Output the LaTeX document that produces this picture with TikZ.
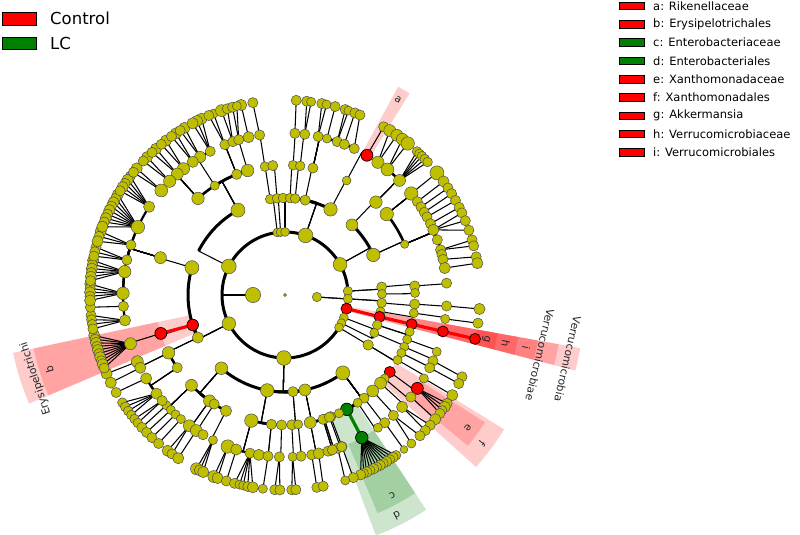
\documentclass[tikz,border=0pt]{standalone}
\usepackage{fontspec}
\setmainfont{DejaVu Sans}
\usetikzlibrary{calc}
\definecolor{oliv}{rgb}{0.75,0.75,0}
\definecolor{dgreen}{rgb}{0,0.5,0}
\tikzset{
  ynode/.style={circle,inner sep=0pt,fill=oliv,draw=black!70,line width=0.5pt},
  rnode/.style={circle,inner sep=0pt,fill=red,draw=black,line width=0.7pt},
  gnode/.style={circle,inner sep=0pt,fill=dgreen,draw=black,line width=0.7pt},
  tedge/.style={line width=1.05pt,black},
  arc3/.style={line width=3pt,black},
  arc4/.style={line width=2.6pt,black},
  arc5/.style={line width=2.2pt,black},
  redge/.style={line width=3.2pt,red},
  gedge/.style={line width=3.2pt,dgreen},
  lbl/.style={inner sep=0pt,font=\fontsize{10.5}{12}\selectfont,text=black!85},
  clbl/.style={inner sep=0pt,font=\fontsize{10.7}{12}\selectfont,text=black!85},
  lgbox/.style={draw=black,line width=0.8pt,minimum width=25pt,minimum height=7.5pt,inner sep=0pt},
  lgtxt/.style={anchor=west,inner sep=0pt,font=\fontsize{11.5}{13}\selectfont},
}
\newif\ifnodepass
\newcommand\TEdge[4]{%
  \edef\tap{\csname nA#2\endcsname}%
  \ifnum#3=6\relax
    \draw[tedge] (#2.center) -- (#1.center);
  \else\ifnum#3=2\relax
    \draw[tedge] (#2.center) -- ($(C)+(\tap:63pt)$);
  \else
    \pgfmathsetmacro\tdd{mod(#4-(\tap)+540,360)-180}%
    \draw[tedge] (#2.center) -- ($(C)+(\tap:\tmpr pt)$) coordinate (j#1);
    \draw[arc#3] (j#1) arc[start angle=\tap, delta angle=\tdd, radius=\tmpr pt];
  \fi\fi}
\newcommand\TN[6]{%
  \expandafter\xdef\csname nA#1\endcsname{#4}%
  \edef\tmpr{\ifcase#3 0\or32\or63\or97\or130\or162\or195\fi}%
  \ifnodepass
    \pgfmathsetmacro\tsz{#5*2.75-max(0,#5-4)*0.9}%
    \node[#6, minimum size=\tsz pt] (#1) at ($(C)+(#4:\tmpr pt)$) {};%
  \else
    \coordinate (#1) at ($(C)+(#4:\tmpr pt)$);%
    \if\relax\detokenize{#2}\relax\else\TEdge{#1}{#2}{#3}{#4}\fi
  \fi}
\newcommand\Y[5]{\TN{#1}{#2}{#3}{#4}{#5}{ynode}}
\newcommand\GF[2]{\foreach \fa/\fs [count=\fk] in {#2} {\TN{#1x\fk}{#1}{6}{\fa}{\fs}{ynode}}}
\newcommand\Band[5]{\fill[#5,fill opacity=0.2] ($(C)+(#1:#3pt)$) arc[start angle=#1,end angle=#2,radius=#3pt] -- ($(C)+(#2:#4pt)$) arc[start angle=#2,end angle=#1,radius=#4pt] -- cycle;}
\newcommand\TreeData{%
% ---- kingdoms and phyla
\Y{kA}{}{1}{180}{6.3}
\Y{kB}{}{1}{-3.6}{3.4}
\Y{p1}{kA}{2}{153}{6}
\Y{p2}{kA}{2}{207}{5.4}
\Y{p3}{kA}{2}{269}{6}
\Y{p4}{kA}{2}{71}{6}
\Y{p5}{kA}{2}{29}{5.5}
\Y{p6}{kA}{2}{97}{3.2}
\Y{p7}{kA}{2}{94}{3.2}
\Y{p8}{kA}{2}{90}{3.2}
\Y{p9}{kB}{2}{3.5}{3.4}
\Y{p10}{kB}{2}{-3.5}{3.4}
\TN{p11}{kA}{2}{-12.5}{4}{rnode}
\Y{p12}{kA}{2}{-21}{3.2}
\Y{p13}{kA}{2}{-26.5}{3.2}
\Y{p14}{kA}{2}{-31}{3.2}
% ---- classes
\Y{c1}{p6}{3}{98.8}{3.5}
\Y{c2}{p7}{3}{94.7}{3.5}
\Y{c3}{p8}{3}{91.2}{3.5}
\Y{c4}{p8}{3}{87}{3.5}
\Y{c5}{p4}{3}{84}{3.5}
\Y{c6}{p4}{3}{78}{3.7}
\Y{c7}{p4}{3}{62}{5.3}
\Y{c8}{p5}{3}{46.3}{4.5}
\Y{c9}{p5}{3}{24.4}{5.3}
\Y{c10}{p9}{3}{4.8}{3.6}
\Y{c11}{p9}{3}{0.6}{3.3}
\Y{c12}{p10}{3}{-4.7}{3.5}
\Y{c13}{p10}{3}{-9.8}{3.3}
\TN{c14}{p11}{3}{-13}{4}{rnode}
\Y{c15}{p12}{3}{-18}{3.5}
\Y{c16}{p13}{3}{-23}{3.3}
\Y{c17}{p14}{3}{-31}{3.8}
\Y{c18}{p3}{3}{306.6}{5.6}
\Y{c19}{p3}{3}{281.9}{4.5}
\Y{c20}{p3}{3}{274.7}{3.7}
\Y{c21}{p3}{3}{259.4}{5.3}
\Y{c22}{p3}{3}{229}{4.9}
\Y{c23}{p2}{3}{206}{4.1}
\TN{c24}{p2}{3}{198}{4.3}{rnode}
\Y{c25}{p2}{3}{163.6}{5.6}
\Y{c26}{p1}{3}{119}{5.6}
% ---- orders
\Y{o1}{c1}{4}{98.9}{3.5}
\Y{o2}{c2}{4}{95.4}{3.7}
\Y{o3}{c4}{4}{86.4}{3.5}
\Y{o4}{c5}{4}{83.3}{3.5}
\Y{o5}{c6}{4}{77.6}{3.7}
\Y{o6}{c7}{4}{61.7}{3.2}
\Y{o7}{c8}{4}{45.6}{4.8}
\Y{o8}{c9}{4}{38.5}{5.3}
\Y{o9}{c9}{4}{23}{3}
\Y{o10}{c10}{4}{4}{3.7}
\Y{o11}{c11}{4}{0.9}{3.3}
\Y{o12}{c12}{4}{-4}{3.7}
\Y{o13}{c13}{4}{-8}{3.3}
\TN{o14}{c14}{4}{-13}{4}{rnode}
\Y{o15}{c15}{4}{-16.4}{3.3}
\Y{o16}{c15}{4}{-20}{3.3}
\Y{o17}{c16}{4}{-23.5}{3.3}
\Y{o18}{c17}{4}{-26.5}{3.3}
\Y{o19}{c17}{4}{-30}{3.3}
\TN{o20}{c18}{4}{-36.3}{4}{rnode}
\Y{o21}{c18}{4}{-40}{3.3}
\Y{o22}{c18}{4}{-42.7}{4.5}
\Y{o23}{c18}{4}{-47.6}{4.5}
\Y{o24}{c18}{4}{-52.5}{3.7}
\Y{o25}{c18}{4}{-56}{3.3}
\TN{o26}{c18}{4}{-61.6}{4.8}{gnode}
\Y{o27}{c18}{4}{-65.5}{3.3}
\Y{o28}{c18}{4}{-69.4}{3.7}
\Y{o29}{c18}{4}{-72.4}{3.3}
\Y{o30}{c19}{4}{281.2}{4.5}
\Y{o31}{c19}{4}{287}{3.7}
\Y{o32}{c19}{4}{290}{3.7}
\Y{o33}{c20}{4}{273}{3.7}
\Y{o34}{c20}{4}{275.8}{3.3}
\Y{o35}{c21}{4}{255}{5.3}
\Y{o36}{c21}{4}{264}{3.7}
\Y{o37}{c21}{4}{268.5}{3.7}
\Y{o38}{c22}{4}{224}{4.5}
\Y{o39}{c22}{4}{234.5}{4.5}
\Y{o40}{c22}{4}{237}{3.7}
\Y{o41}{c22}{4}{243}{4.1}
\Y{o42}{c23}{4}{206.4}{4.8}
\Y{o43}{c23}{4}{214}{3.7}
\TN{o44}{c24}{4}{197.2}{4.5}{rnode}
\Y{o45}{c25}{4}{163.3}{4.5}
\Y{o46}{c26}{4}{132}{4.8}
\Y{o47}{c26}{4}{122.7}{3.3}
\Y{o48}{c26}{4}{111.8}{3.7}
\Y{o49}{c26}{4}{106.7}{4.8}
% ---- families
\Y{f1}{o1}{5}{99}{3.7}
\Y{f2}{o3}{5}{86.5}{3.7}
\Y{f3}{o4}{5}{83}{3.7}
\Y{f4}{o5}{5}{78.2}{3.7}
\Y{f5}{o5}{5}{75}{3.3}
\Y{f6}{o5}{5}{71.2}{3.7}
\Y{f7}{o5}{5}{68.5}{3.7}
\Y{f8}{o5}{5}{64.7}{3.7}
\TN{fa}{o6}{5}{59.6}{4.5}{rnode}
\Y{f9}{o7}{5}{55}{4.7}
\Y{f10}{o7}{5}{50.8}{5}
\Y{f11}{o7}{5}{45}{4.5}
\Y{f12}{o8}{5}{38.8}{5.3}
\Y{f13}{o8}{5}{35.2}{3.7}
\Y{f14}{o8}{5}{32.9}{3.7}
\Y{f15}{o8}{5}{30.7}{3.7}
\Y{f16}{o8}{5}{28.8}{3.7}
\Y{f17}{o9}{5}{26.1}{3.7}
\Y{f18}{o9}{5}{23.7}{4.1}
\Y{f19}{o9}{5}{19.9}{3.7}
\Y{f20}{o9}{5}{16.2}{3.7}
\Y{f21}{o9}{5}{14.5}{3.7}
\Y{f22}{o9}{5}{12.7}{3.7}
\Y{f23}{o9}{5}{9.6}{4.1}
\Y{f24}{o10}{5}{4.2}{3.7}
\Y{f25}{o12}{5}{-3.9}{3.7}
\Y{f26}{o13}{5}{-8.5}{3.3}
\TN{fh}{o14}{5}{-13}{4}{rnode}
\Y{f27}{o16}{5}{-20.5}{3.3}
\Y{f28}{o17}{5}{-24}{3.7}
\Y{f29}{o18}{5}{-26.7}{3.7}
\Y{f30}{o19}{5}{-31}{3.3}
\TN{fe}{o20}{5}{-35.2}{4.5}{rnode}
\Y{f31}{o21}{5}{-39}{3.7}
\Y{f32}{o22}{5}{-43.7}{4.1}
\Y{f33}{o23}{5}{-48}{3.7}
\Y{f34}{o24}{5}{-52}{3.7}
\Y{f35}{o25}{5}{-55}{3.3}
\TN{fc}{o26}{5}{-61.7}{4.8}{gnode}
\Y{f36}{o28}{5}{-69.4}{3.7}
\Y{f37}{o29}{5}{-71}{3.7}
\Y{f38}{o29}{5}{-73.5}{3.7}
\Y{f39}{o30}{5}{279.5}{3.7}
\Y{f40}{o30}{5}{282}{4.1}
\Y{f41}{o31}{5}{285.4}{3.7}
\Y{f42}{o31}{5}{287}{3.7}
\Y{f43}{o32}{5}{290.5}{3.7}
\Y{f44}{o33}{5}{272.7}{3.3}
\Y{f45}{o34}{5}{275.7}{3.7}
\Y{f46}{o35}{5}{249.3}{5.3}
\Y{f47}{o35}{5}{252.5}{4.1}
\Y{f48}{o35}{5}{257.5}{3.7}
\Y{f49}{o36}{5}{260.7}{4.1}
\Y{f50}{o36}{5}{264}{3.7}
\Y{f51}{o37}{5}{268}{3.7}
\Y{f52}{o38}{5}{222.9}{3.3}
\Y{f53}{o38}{5}{225.2}{3.3}
\Y{f54}{o38}{5}{227.5}{3.3}
\Y{f55}{o38}{5}{230}{3.3}
\Y{f56}{o39}{5}{233.8}{4.5}
\Y{f57}{o39}{5}{236.8}{4.5}
\Y{f58}{o40}{5}{239.6}{3.7}
\Y{f59}{o41}{5}{243.6}{3.3}
\Y{f60}{o42}{5}{204.3}{4.5}
\Y{f61}{o42}{5}{206.7}{4.1}
\Y{f62}{o43}{5}{211}{4.1}
\Y{f63}{o43}{5}{217.5}{4.1}
\Y{f64}{o43}{5}{220.7}{3.7}
\Y{f65}{o44}{5}{197.5}{4.5}
\Y{f66}{o45}{5}{147}{4.1}
\Y{f67}{o45}{5}{155.2}{5.3}
\Y{f68}{o45}{5}{162}{3.7}
\Y{f69}{o45}{5}{167.5}{3.7}
\Y{f70}{o45}{5}{171.7}{4.8}
\Y{f71}{o45}{5}{179.4}{4.8}
\Y{f72}{o45}{5}{184}{3.7}
\Y{f73}{o45}{5}{189}{4.1}
\Y{f74}{o46}{5}{121.6}{4.2}
\Y{f75}{o46}{5}{124.7}{4.1}
\Y{f76}{o46}{5}{128.8}{4.7}
\Y{f77}{o46}{5}{131.7}{4.5}
\Y{f78}{o46}{5}{135.4}{4.7}
\Y{f79}{o46}{5}{139.8}{5}
\Y{f80}{o47}{5}{117.5}{3.7}
\Y{f81}{o48}{5}{111.8}{3.7}
\Y{f82}{o48}{5}{108.8}{3.7}
\Y{f83}{o48}{5}{106.6}{3.7}
\Y{f84}{o49}{5}{103}{4.1}
% ---- genera
\GF{f1}{99.5/3.7}
\GF{f84}{103/4.1}
\GF{f2}{86.7/3.7}
\GF{f3}{83.6/3.7,82.3/3.3}
\GF{f4}{79.1/3.7,77.7/3.3}
\GF{f5}{75.1/3.7}
\GF{f6}{72/3.7,71/3.3}
\GF{f7}{69/3.7}
\GF{f8}{67.4/3.7}
\GF{fa}{59.6/3.7}
\GF{f9}{57.5/4.5,55/4.5}
\GF{f10}{53/4.5,51/5.3}
\GF{f11}{47.4/3.5,46.4/3.5,45.4/3.5,44.2/3.5,43/3.5}
\GF{f12}{38.8/5.6}
\GF{f13}{35.6/4.1}
\GF{f14}{33.3/3.7}
\GF{f15}{31.3/3.7}
\GF{f16}{29/3.7}
\GF{f17}{26.7/3.7}
\GF{f18}{24.9/3.7,22.4/3.7,19.4/3.7}
\GF{f20}{16.4/3.7,14.6/3.7}
\GF{f22}{11.3/3.7}
\GF{f23}{9.4/4.1}
\GF{f25}{-4.1/4.1}
\GF{f26}{-8.3/3.7}
\TN{gg}{fh}{6}{-13}{4}{rnode}
\GF{f28}{-24.8/3.7}
\GF{f29}{-27/3.7}
\GF{f30}{-30.9/4.1}
\GF{fe}{-33.8/3.7,-35/4.1,-36.2/3.3,-37.4/3.7}
\GF{f31}{-39.6/4.1}
\GF{f32}{-41.9/3.7,-44/3.7}
\GF{f33}{-46.2/3.7,-49.6/3.3}
\GF{f34}{-52.4/2.8}
\GF{fc}{-55.3/3.5,-56.4/3.8,-57.5/3.5,-58.6/3.8,-59.7/3.5,-60.8/3.8,-61.9/3.5,-63/3.8,-64.1/3.5,-65.2/3.8,-66.2/3.5,-67.2/3.8}
\GF{f36}{-69.5/3.7}
\GF{f37}{-72/3.3}
\GF{f39}{279.4/3.7}
\GF{f40}{281.3/3.7}
\GF{f44}{272/3.7,273.2/3.7}
\GF{f46}{248.6/4.5,249.8/4.1}
\GF{f47}{252.5/3.7}
\GF{f48}{255/3.7,256.5/3.3,257.6/3.3,259/3.7,260.5/4.1}
\GF{f50}{263.5/3.3}
\GF{f51}{267/3.7,268.5/3.7}
\GF{f59}{243/4.5,244.1/4.1,245.2/4.1}
\GF{f56}{233/4.1,234.6/3.7}
\GF{f57}{236.8/4.1}
\GF{f63}{213.5/3.5,215/3.5,216.5/3.5,218/3.5}
\GF{f64}{219.5/3.5,221/3.5}
\GF{f52}{222.8/3.7}
\GF{f53}{224.8/3.7}
\GF{f54}{227/3.7}
\GF{f55}{229.6/3.7}
\GF{f60}{203.8/4.1}
\GF{f61}{206.7/4.1}
\GF{f62}{210/3.7}
\GF{f65}{192/4.1,193.1/3.7,194.2/4.1,195.3/3.7,196.4/4.1,197.5/3.7,198.6/4.1,199.7/3.7,200.8/4.1,202/3.7}
\GF{f73}{186/3.7,187.3/3.7,188.6/3.5,190/3.7}
\GF{f72}{183.6/3.7}
\GF{f71}{176.8/4.1,178/3.7,179.2/4.1,180.4/3.7,181.6/4.1}
\GF{f70}{169.8/4.1,171/3.7,172.2/4.1,173.4/3.7,174.6/4.1,175.8/3.7}
\GF{f69}{165.8/3.7,167.2/3.7,168.5/3.7}
\GF{f68}{161/4.1,162.5/3.7,164/4.1}
\GF{f67}{149/4.1,150.3/3.7,151.6/4.1,152.9/3.7,154.2/4.1,155.5/3.7,156.8/4.1,158/3.7,159.5/4.1}
\GF{f66}{142.5/3.7,143.8/4.1,145.1/3.7,146.4/4.1,147.7/3.7}
\GF{f79}{139.5/4.1,141/3.7}
\GF{f78}{135/4.1,136.6/3.7}
\GF{f77}{131.4/4.1,133/3.7}
\GF{f76}{127.6/4.1,129.4/3.7}
\GF{f75}{124/4.1,125.6/3.7}
\GF{f74}{121/4.1,122.5/3.7}
\GF{f80}{115.3/4.1,116.8/4.1,118.3/4.1}
\GF{f81}{111.5/3.3,113/3.7}
\GF{f82}{109/4.5,107.2/3.7}
\GF{f83}{105.6/3.7,104.3/3.3}
}
\begin{document}
\begin{tikzpicture}[x=1pt,y=1pt]
\useasboundingbox (0,0) rectangle (800,-535);
\fill[white] (0,0) rectangle (800,-535);
\coordinate (C) at (285,-295);
% ---- shaded clades
\Band{-14.6}{-10.2}{63}{300}{red}
\Band{-14.6}{-10.2}{97}{278}{red}
\Band{-14.6}{-10.2}{130}{257}{red}
\Band{-14.6}{-10.2}{162}{237}{red}
\Band{-14.6}{-10.2}{195}{216}{red}
\Band{58.3}{61.5}{162}{237}{red}
\Band{192}{203}{97}{278}{red}
\Band{192}{203}{130}{257}{red}
\Band{-42}{-31.5}{130}{257}{red}
\Band{-39.5}{-32.5}{162}{237}{red}
\Band{-69.3}{-56.7}{130}{257}{dgreen}
\Band{-67}{-56.7}{162}{237}{dgreen}
% ---- connectors (first pass)
\draw[line width=3pt] (C) circle[radius=63pt];
\nodepassfalse
\TreeData
\draw[redge] (p11.center) -- (c14.center) -- (o14.center) -- (fh.center) -- (gg.center);
\draw[redge] (c24.center) -- (o44.center);
\draw[gedge] (o26.center) -- (fc.center);
% ---- nodes (second pass)
\node[ynode,minimum size=3pt] (root) at (C) {};
\nodepasstrue
\TreeData
% ---- clade labels
\node[lbl,rotate=-30] (la) at ($(C)+(60:226pt)$) {a};
\node[lbl,rotate=107.5] (lb) at ($(C)+(197.5:247pt)$) {b};
\node[lbl,rotate=-151.8] (lc) at ($(C)+(-61.8:227pt)$) {c};
\node[lbl,rotate=-153] (ld) at ($(C)+(-63:247pt)$) {d};
\node[lbl,rotate=-126] (le) at ($(C)+(-36:226pt)$) {e};
\node[lbl,rotate=-127] (lf) at ($(C)+(-37:247pt)$) {f};
\node[lbl,rotate=-102.4] (lg) at ($(C)+(-12.4:206pt)$) {g};
\node[lbl,rotate=-102.4] (lh) at ($(C)+(-12.4:226pt)$) {h};
\node[lbl,rotate=-102.4] (li) at ($(C)+(-12.4:247pt)$) {i};
\node[clbl,rotate=-103.2] (lv1) at ($(C)+(-13.2:262pt)$) {Verrucomicrobiae};
\node[clbl,rotate=-102.8] (lv2) at ($(C)+(-12.8:290pt)$) {Verrucomicrobia};
\node[clbl,rotate=108.5] (lery) at ($(C)+(198.5:263pt)$) {Erysipelotrichi};
% ---- legends
\node[draw=black,line width=0.9pt,fill=red,minimum width=34pt,minimum height=13pt,inner sep=0pt] (legC) at (19,-18.5) {};
\node[anchor=west,inner sep=0pt,font=\fontsize{16.5}{18}\selectfont] (legCt) at (50,-18.5) {Control};
\node[draw=black,line width=0.9pt,fill=dgreen,minimum width=34pt,minimum height=12pt,inner sep=0pt] (legL) at (19,-43) {};
\node[anchor=west,inner sep=0pt,font=\fontsize{16.5}{18}\selectfont] (legLt) at (50,-43) {LC};
\foreach \lt/\lc [count=\k] in {a: Rikenellaceae/red,b: Erysipelotrichales/red,c: Enterobacteriaceae/dgreen,d: Enterobacteriales/dgreen,e: Xanthomonadaceae/red,f: Xanthomonadales/red,g: Akkermansia/red,h: Verrucomicrobiaceae/red,i: Verrucomicrobiales/red}{
  \node[lgbox,fill=\lc] (lr\k) at (631.5,{-6-18.3*(\k-1)}) {};
  \node[lgtxt] (lt\k) at (653,{-6-18.3*(\k-1)}) {\lt};
}
\end{tikzpicture}
\end{document}
